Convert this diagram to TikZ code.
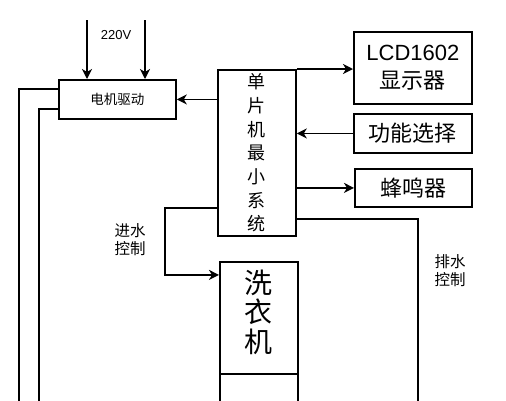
\documentclass[tikz,border=0pt]{standalone}
\usepackage{fontspec}
\setmainfont{Liberation Sans}
\newfontfamily\cjk{Noto Sans CJK SC}
\usetikzlibrary{arrows.meta}
\begin{document}
\begin{tikzpicture}[x=1pt,y=-1pt,
  box/.style={draw,line width=1.8pt,inner sep=0pt,anchor=north west,align=center},
  conn/.style={line width=1.7pt},
  arr/.style={conn,-{Stealth[length=10pt,width=10pt,inset=3pt]}},
  lbl/.style={inner sep=0pt,align=center}]
\useasboundingbox (0,0) rectangle (506,400);
\clip (0,0) rectangle (506,400);
\fill[white] (0,0) rectangle (506,400);
% boxes
\node[box,minimum width=117pt,minimum height=39pt,font=\cjk\fontsize{13.5}{15}\selectfont] (motor) at (58,79)
  {电机驱动};
\node[box,minimum width=78pt,minimum height=166pt,font=\cjk\fontsize{18}{23.7}\selectfont] (mcu) at (217,69)
  {单\\片\\机\\最\\小\\系\\统};
\node[box,minimum width=118pt,minimum height=72pt,font=\fontsize{22}{28}\selectfont] (lcd) at (353,31)
  {LCD1602\\{\cjk 显示器}};
\node[box,minimum width=118pt,minimum height=39pt,font=\cjk\fontsize{22}{26}\selectfont] (func) at (353,113)
  {功能选择};
\node[box,minimum width=117pt,minimum height=38pt,font=\cjk\fontsize{22}{26}\selectfont] (buzzer) at (354,168)
  {蜂鸣器};
\node[box,minimum width=78pt,minimum height=112pt] (washer) at (219,261) {};
\node[lbl,font=\cjk\fontsize{28}{29.5}\selectfont] (washertext) at (258,312) {洗\\衣\\机};
\node[box,minimum width=78pt,minimum height=50pt] (washerbase) at (219,373) {};
% labels
\node[lbl,font=\fontsize{13}{15}\selectfont] (v220) at (116,35) {220V};
\node[lbl,font=\cjk\fontsize{15.5}{18}\selectfont] (inlbl) at (130,240) {进水\\控制};
\node[lbl,font=\cjk\fontsize{15.5}{18}\selectfont] (outlbl) at (450,271) {排水\\控制};
% free ends
\coordinate (p1) at (87,20);
\coordinate (p2) at (145,20);
\coordinate (b1) at (19,410);
\coordinate (b2) at (39,410);
\coordinate (d) at (418,410);
% connectors
\draw[arr] (p1) -- (p1 |- motor.north);
\draw[arr] (p2) -- (p2 |- motor.north);
\draw[arr] (mcu.west |- motor.east) -- (motor.east);
\draw[conn] ([yshift=10.5pt]motor.west) -| (b1);
\draw[conn] ([yshift=-9.5pt]motor.west) -| (b2);
\draw[arr] (mcu.north east) -- (lcd.west |- mcu.north east);
\draw[arr] (func.west) -- (mcu.east |- func.west);
\draw[arr] (mcu.east |- buzzer.west) -- (buzzer.west);
\draw[conn] ([yshift=18pt]mcu.south east) -| (d);
\draw[arr] ([yshift=29pt]mcu.south west) -- ++(-52,0) |- ([yshift=43pt]washer.west);
\end{tikzpicture}
\end{document}
